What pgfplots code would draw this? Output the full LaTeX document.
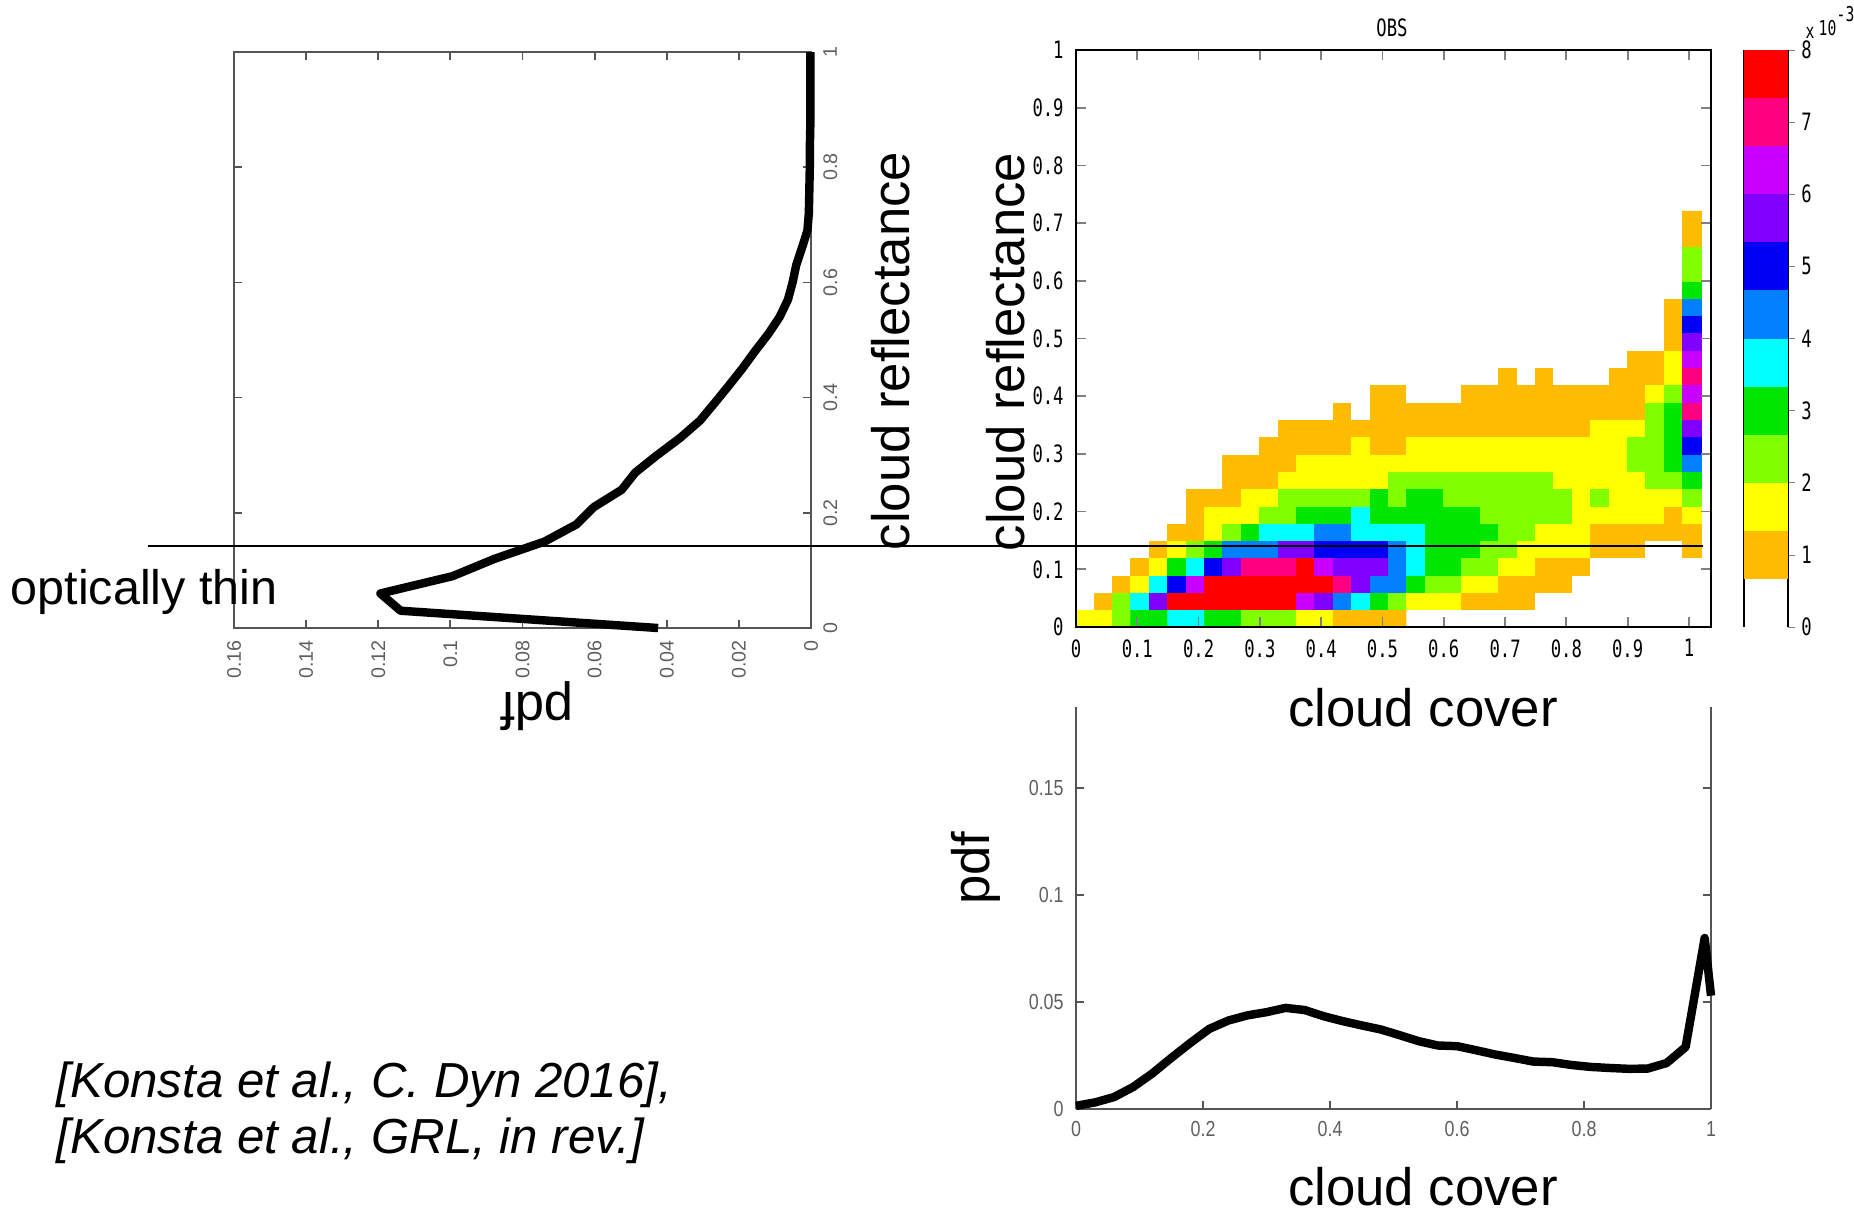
\documentclass[border=0pt]{standalone}
\usepackage{fontspec}
\setmainfont{Liberation Sans}
\newfontfamily\pixfont[FakeStretch=0.72]{DejaVu Sans Mono}
\newfontfamily\narrowfont[FakeStretch=0.82]{Liberation Sans}
\usepackage{pgfplots}
\pgfplotsset{compat=1.18}
\definecolor{axgray}{RGB}{85,85,85}
\definecolor{lblgray}{RGB}{95,95,95}
\definecolor{cm0}{RGB}{255,255,255}
\definecolor{cm1}{RGB}{255,188,0}
\definecolor{cm2}{RGB}{255,255,0}
\definecolor{cm3}{RGB}{128,255,0}
\definecolor{cm4}{RGB}{0,230,0}
\definecolor{cm5}{RGB}{0,255,255}
\definecolor{cm6}{RGB}{0,128,255}
\definecolor{cm7}{RGB}{0,0,245}
\definecolor{cm8}{RGB}{128,0,255}
\definecolor{cm9}{RGB}{200,0,255}
\definecolor{cm10}{RGB}{255,0,128}
\definecolor{cm11}{RGB}{255,0,0}
\pgfplotsset{colormap={obs}{rgb255=(255,255,255) rgb255=(255,188,0) rgb255=(255,255,0) rgb255=(128,255,0) rgb255=(0,230,0) rgb255=(0,255,255) rgb255=(0,128,255) rgb255=(0,0,245) rgb255=(128,0,255) rgb255=(200,0,255) rgb255=(255,0,128) rgb255=(255,0,0)}}
\begin{document}
\begin{tikzpicture}
\useasboundingbox (0,0) rectangle (18.54,-12.09);
\clip (0,0) rectangle (18.54,-12.09);

% ---------------- left: pdf of cloud reflectance (rotated) ----------------
\begin{axis}[
  at={(2.34cm,-6.28cm)}, anchor=south west, scale only axis,
  width=5.77cm, height=5.76cm,
  x dir=reverse, xmin=0, xmax=0.16, ymin=0, ymax=1,
  xtick={0,0.02,0.04,0.06,0.08,0.1,0.12,0.14,0.16},
  xticklabels={0,0.02,0.04,0.06,0.08,0.1,0.12,0.14,0.16},
  ytick={0,0.2,0.4,0.6,0.8,1},
  yticklabels={0,0.2,0.4,0.6,0.8,1},
  yticklabel pos=right,
  tick align=inside, major tick length=0.08cm,
  axis line style={axgray, line width=0.6pt},
  tick style={axgray, line width=0.5pt},
  tick label style={font=\fontsize{5.6}{6}\selectfont, text=lblgray},
  xticklabel style={rotate=90, anchor=east},
  yticklabel style={rotate=90, anchor=north},
  clip=false,
]
\addplot[black, line width=2.4pt, line join=round] coordinates {
(0.0424,0) (0.1138,0.03) (0.1194,0.06) (0.0994,0.09) (0.0878,0.12)
(0.0739,0.15) (0.0650,0.18) (0.0602,0.21) (0.0525,0.24) (0.0487,0.27)
(0.0427,0.30) (0.0363,0.33) (0.0308,0.36) (0.0268,0.39) (0.0229,0.42)
(0.0191,0.45) (0.0156,0.48) (0.0119,0.51) (0.0087,0.54) (0.0064,0.57)
(0.0051,0.60) (0.0041,0.63) (0.0025,0.66) (0.0010,0.69) (0.0006,0.72)
(0.0005,0.75) (0.0004,0.78) (0.0003,0.81) (0.0003,0.84) (0.0002,0.87)
(0.0002,0.90) (0.0002,0.93) (0.0002,0.96) (0.0002,1.00)
};
\end{axis}

% ---------------- heat map OBS ----------------
\begin{axis}[
  at={(10.76cm,-6.27cm)}, anchor=south west, scale only axis,
  width=6.35cm, height=5.77cm,
  xmin=0, xmax=1.036, ymin=0, ymax=1,
  xtick={0,0.1,0.2,0.3,0.4,0.5,0.6,0.7,0.8,0.9,1},
  xticklabels={0,0.1,0.2,0.3,0.4,0.5,0.6,0.7,0.8,0.9,1},
  ytick={0,0.1,0.2,0.3,0.4,0.5,0.6,0.7,0.8,0.9,1},
  yticklabels={0,0.1,0.2,0.3,0.4,0.5,0.6,0.7,0.8,0.9,1},
  tick align=inside, major tick length=0.1cm,
  axis on top, axis line style={line width=0.7pt},
  tick style={line width=0.5pt},
  tick label style={font=\pixfont\fontsize{6.8}{7}\selectfont},
  colormap name=obs, colormap access=direct,
]
\addplot[matrix plot*, mesh/cols=34, point meta=explicit] table[
  x expr={0.015+0.03*mod(\coordindex,34)},
  y expr={0.015+0.03*floor(\coordindex/34)},
  meta=c, row sep=\\] {
c\\
2\\2\\3\\4\\4\\5\\5\\4\\4\\3\\3\\3\\2\\2\\1\\1\\1\\1\\0\\0\\0\\0\\0\\0\\0\\0\\0\\0\\0\\0\\0\\0\\0\\0\\
0\\1\\3\\5\\8\\11\\11\\11\\11\\11\\11\\11\\9\\8\\6\\5\\4\\3\\2\\2\\2\\1\\1\\1\\1\\0\\0\\0\\0\\0\\0\\0\\0\\0\\
0\\0\\1\\2\\5\\7\\9\\11\\11\\11\\11\\11\\11\\11\\10\\8\\6\\6\\4\\3\\3\\2\\2\\1\\1\\1\\1\\0\\0\\0\\0\\0\\0\\0\\
0\\0\\0\\1\\2\\4\\5\\7\\8\\10\\10\\10\\11\\9\\8\\8\\8\\6\\5\\4\\4\\3\\3\\2\\2\\1\\1\\1\\0\\0\\0\\0\\0\\0\\
0\\0\\0\\0\\1\\2\\3\\4\\6\\6\\6\\8\\8\\7\\7\\7\\7\\6\\5\\4\\4\\4\\3\\3\\2\\2\\2\\2\\1\\1\\1\\0\\0\\1\\
0\\0\\0\\0\\0\\1\\1\\2\\3\\4\\5\\5\\5\\6\\6\\5\\5\\5\\5\\4\\4\\4\\4\\3\\3\\2\\2\\2\\1\\1\\1\\1\\1\\1\\
0\\0\\0\\0\\0\\0\\1\\2\\2\\2\\3\\3\\4\\4\\4\\5\\4\\4\\4\\4\\4\\4\\3\\3\\3\\3\\3\\2\\2\\2\\2\\2\\1\\2\\
0\\0\\0\\0\\0\\0\\1\\1\\1\\2\\2\\3\\3\\3\\3\\3\\4\\3\\4\\4\\3\\3\\3\\3\\3\\3\\3\\2\\3\\2\\2\\2\\2\\3\\
0\\0\\0\\0\\0\\0\\0\\0\\1\\1\\1\\2\\2\\2\\2\\2\\2\\3\\3\\3\\3\\3\\3\\3\\3\\3\\2\\2\\2\\2\\2\\3\\3\\4\\
0\\0\\0\\0\\0\\0\\0\\0\\1\\1\\1\\1\\2\\2\\2\\2\\2\\2\\2\\2\\2\\2\\2\\2\\2\\2\\2\\2\\2\\2\\3\\3\\4\\6\\
0\\0\\0\\0\\0\\0\\0\\0\\0\\0\\1\\1\\1\\1\\1\\2\\1\\1\\2\\2\\2\\2\\2\\2\\2\\2\\2\\2\\2\\2\\3\\3\\4\\7\\
0\\0\\0\\0\\0\\0\\0\\0\\0\\0\\0\\1\\1\\1\\1\\1\\1\\1\\1\\1\\1\\1\\1\\1\\1\\1\\1\\1\\2\\2\\2\\3\\4\\8\\
0\\0\\0\\0\\0\\0\\0\\0\\0\\0\\0\\0\\0\\0\\1\\0\\1\\1\\1\\1\\1\\1\\1\\1\\1\\1\\1\\1\\1\\1\\1\\3\\4\\10\\
0\\0\\0\\0\\0\\0\\0\\0\\0\\0\\0\\0\\0\\0\\0\\0\\1\\1\\0\\0\\0\\1\\1\\1\\1\\1\\1\\1\\1\\1\\1\\2\\3\\9\\
0\\0\\0\\0\\0\\0\\0\\0\\0\\0\\0\\0\\0\\0\\0\\0\\0\\0\\0\\0\\0\\0\\0\\1\\0\\1\\0\\0\\0\\1\\1\\1\\2\\10\\
0\\0\\0\\0\\0\\0\\0\\0\\0\\0\\0\\0\\0\\0\\0\\0\\0\\0\\0\\0\\0\\0\\0\\0\\0\\0\\0\\0\\0\\0\\1\\1\\2\\9\\
0\\0\\0\\0\\0\\0\\0\\0\\0\\0\\0\\0\\0\\0\\0\\0\\0\\0\\0\\0\\0\\0\\0\\0\\0\\0\\0\\0\\0\\0\\0\\0\\1\\8\\
0\\0\\0\\0\\0\\0\\0\\0\\0\\0\\0\\0\\0\\0\\0\\0\\0\\0\\0\\0\\0\\0\\0\\0\\0\\0\\0\\0\\0\\0\\0\\0\\1\\7\\
0\\0\\0\\0\\0\\0\\0\\0\\0\\0\\0\\0\\0\\0\\0\\0\\0\\0\\0\\0\\0\\0\\0\\0\\0\\0\\0\\0\\0\\0\\0\\0\\1\\6\\
0\\0\\0\\0\\0\\0\\0\\0\\0\\0\\0\\0\\0\\0\\0\\0\\0\\0\\0\\0\\0\\0\\0\\0\\0\\0\\0\\0\\0\\0\\0\\0\\0\\4\\
0\\0\\0\\0\\0\\0\\0\\0\\0\\0\\0\\0\\0\\0\\0\\0\\0\\0\\0\\0\\0\\0\\0\\0\\0\\0\\0\\0\\0\\0\\0\\0\\0\\3\\
0\\0\\0\\0\\0\\0\\0\\0\\0\\0\\0\\0\\0\\0\\0\\0\\0\\0\\0\\0\\0\\0\\0\\0\\0\\0\\0\\0\\0\\0\\0\\0\\0\\3\\
0\\0\\0\\0\\0\\0\\0\\0\\0\\0\\0\\0\\0\\0\\0\\0\\0\\0\\0\\0\\0\\0\\0\\0\\0\\0\\0\\0\\0\\0\\0\\0\\0\\1\\
0\\0\\0\\0\\0\\0\\0\\0\\0\\0\\0\\0\\0\\0\\0\\0\\0\\0\\0\\0\\0\\0\\0\\0\\0\\0\\0\\0\\0\\0\\0\\0\\0\\1\\
};
\end{axis}

% ---------------- colour bar ----------------
\begin{axis}[
  at={(17.44cm,-6.27cm)}, anchor=south west, scale only axis,
  width=0.44cm, height=5.77cm,
  xmin=0, xmax=1, ymin=0, ymax=8,
  axis x line=none, axis y line*=box,
  ytick={0,1,2,3,4,5,6,7,8},
  yticklabels={0,1,2,3,4,5,6,7,8},
  ytick pos=right, yticklabel pos=right,
  tick align=outside, major tick length=0.07cm,
  axis line style={line width=0.6pt},
  tick label style={font=\pixfont\fontsize{6.8}{7}\selectfont},
  yticklabel style={xshift=-0.06cm},
  clip=false,
]
\addplot[fill=cm1, draw=none] coordinates {(0,0.6667) (1,0.6667) (1,1.3333) (0,1.3333)} -- cycle;
\addplot[fill=cm2, draw=none] coordinates {(0,1.3333) (1,1.3333) (1,2.0000) (0,2.0000)} -- cycle;
\addplot[fill=cm3, draw=none] coordinates {(0,2.0000) (1,2.0000) (1,2.6667) (0,2.6667)} -- cycle;
\addplot[fill=cm4, draw=none] coordinates {(0,2.6667) (1,2.6667) (1,3.3333) (0,3.3333)} -- cycle;
\addplot[fill=cm5, draw=none] coordinates {(0,3.3333) (1,3.3333) (1,4.0000) (0,4.0000)} -- cycle;
\addplot[fill=cm6, draw=none] coordinates {(0,4.0000) (1,4.0000) (1,4.6667) (0,4.6667)} -- cycle;
\addplot[fill=cm7, draw=none] coordinates {(0,4.6667) (1,4.6667) (1,5.3333) (0,5.3333)} -- cycle;
\addplot[fill=cm8, draw=none] coordinates {(0,5.3333) (1,5.3333) (1,6.0000) (0,6.0000)} -- cycle;
\addplot[fill=cm9, draw=none] coordinates {(0,6.0000) (1,6.0000) (1,6.6667) (0,6.6667)} -- cycle;
\addplot[fill=cm10, draw=none] coordinates {(0,6.6667) (1,6.6667) (1,7.3333) (0,7.3333)} -- cycle;
\addplot[fill=cm11, draw=none] coordinates {(0,7.3333) (1,7.3333) (1,8.0000) (0,8.0000)} -- cycle;
\end{axis}

% ---------------- bottom: pdf of cloud cover ----------------
\begin{axis}[
  at={(10.76cm,-11.09cm)}, anchor=south west, scale only axis,
  width=6.35cm, height=4.02cm,
  xmin=0, xmax=1, ymin=0, ymax=0.188,
  axis x line*=bottom, axis y line*=box,
  xtick={0,0.2,0.4,0.6,0.8,1}, xticklabels={0,0.2,0.4,0.6,0.8,1},
  ytick={0,0.05,0.1,0.15}, yticklabels={0,0.05,0.1,0.15},
  tick align=inside, major tick length=0.08cm,
  axis line style={axgray, line width=0.6pt},
  tick style={axgray, line width=0.5pt},
  tick label style={font=\narrowfont\fontsize{6.2}{7}\selectfont, text=lblgray},
  clip=false,
]
\addplot[black, line width=2.4pt, line join=round] coordinates {
(0,0.0015) (0.03,0.0031) (0.06,0.0056) (0.09,0.0103) (0.12,0.0166)
(0.15,0.0239) (0.18,0.0309) (0.21,0.0375) (0.24,0.0414) (0.27,0.0438)
(0.30,0.0453) (0.33,0.0473) (0.36,0.0463) (0.39,0.0434) (0.42,0.0411)
(0.45,0.0391) (0.48,0.0372) (0.51,0.0345) (0.54,0.0317) (0.57,0.0297)
(0.60,0.0294) (0.63,0.0275) (0.66,0.0255) (0.69,0.0239) (0.72,0.0222)
(0.75,0.0219) (0.78,0.0206) (0.81,0.0197) (0.84,0.0192) (0.87,0.0188)
(0.90,0.0189) (0.93,0.0215) (0.96,0.0290) (0.99,0.0800) (1.0,0.0530)
};
\end{axis}

% ---------------- annotations ----------------
\draw[line width=0.45pt] (1.48,-5.46) -- (17.03,-5.46);

\node[rotate=90, font=\fontsize{15}{18}\selectfont] at (8.91,-3.51) {cloud reflectance};
\node[rotate=90, font=\fontsize{15}{18}\selectfont] at (10.06,-3.52) {cloud reflectance};
\node[anchor=base west, inner sep=0pt, font=\fontsize{13.8}{16}\selectfont] at (0.10,-6.04) {optically thin};
\node[rotate=180, font=\fontsize{15}{18}\selectfont] at (5.37,-7.06) {pdf};
\node[rotate=90, font=\fontsize{15}{18}\selectfont] at (9.76,-8.68) {pdf};
\node[anchor=base, inner sep=0pt, font=\fontsize{15}{18}\selectfont] at (14.23,-7.26) {cloud cover};
\node[anchor=base, inner sep=0pt, font=\fontsize{15}{18}\selectfont] at (14.23,-12.05) {cloud cover};
\node[anchor=base west, inner sep=0pt, font=\itshape\fontsize{14}{16}\selectfont] at (0.56,-10.97) {[Konsta et al., C. Dyn 2016],};
\node[anchor=base west, inner sep=0pt, font=\itshape\fontsize{14}{16}\selectfont] at (0.56,-11.53) {[Konsta et al., GRL, in rev.]};
\node[font=\pixfont\fontsize{6.8}{7}\selectfont] at (13.92,-0.28) {OBS};
\node[inner sep=0pt, font=\pixfont\fontsize{5.8}{6}\selectfont] at (18.10,-0.33) {x};
\node[anchor=west, inner sep=0pt, font=\pixfont\fontsize{5.8}{6}\selectfont] at (18.18,-0.28) {10};
\node[anchor=west, inner sep=0pt, font=\pixfont\fontsize{5.8}{6}\selectfont] at (18.36,-0.14) {-3};
\end{tikzpicture}
\end{document}
